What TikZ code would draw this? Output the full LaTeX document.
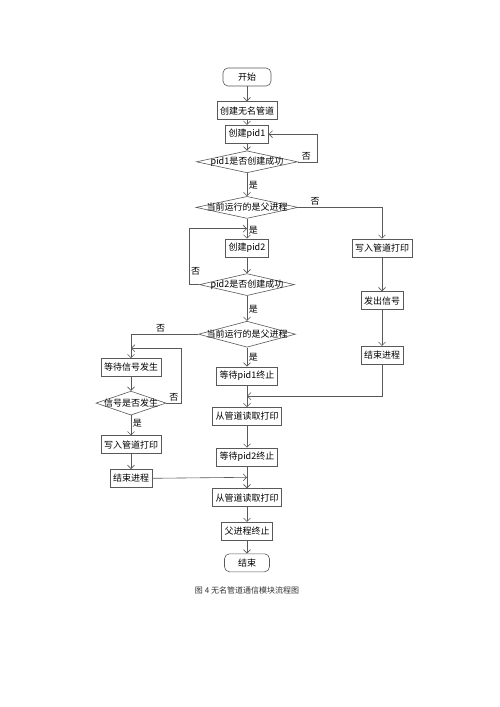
\documentclass[tikz,border=0pt]{standalone}
\usepackage{fontspec}
\newfontfamily\cjk{Noto Sans CJK SC}
\usetikzlibrary{arrows.meta, positioning, shapes.geometric, calc}
\newcommand{\dtxt}[1]{\makebox[0pt]{#1}}

\begin{document}
\begin{tikzpicture}[
  x=1pt, y=-1pt,
  font=\cjk\fontsize{9}{11}\selectfont,
  box/.style={draw=black!65, line width=.6pt, minimum height=18pt, inner xsep=3pt, inner ysep=2pt},
  term/.style={box, rounded corners=5pt},
  dec/.style={diamond, draw=black!65, line width=.6pt, inner sep=0pt, minimum height=22pt},
  lbl/.style={font=\cjk\fontsize{9}{10}\selectfont, inner sep=1.5pt},
  flow/.style={draw=black!65, line width=.6pt, ->},
  >={Straight Barb[length=3.5pt,width=7pt]}
]
\useasboundingbox[fill=white] (0,0) rectangle (500,707);
% main column
\node[term, minimum width=48pt] (start) at (247,77) {开始};
\node[box, below=15pt of start] (pipe) {创建无名管道};
\node[box, below=5pt of pipe] (pid1) {创建pid1};
\node[dec, minimum width=101pt, below=7pt of pid1] (ok1) {\dtxt{pid1是否创建成功}};
\node[dec, minimum width=102pt, below=23pt of ok1] (par1) {\dtxt{当前运行的是父进程}};
\node[box, below=20pt of par1] (pid2) {创建pid2};
\node[dec, minimum width=95pt, below=16pt of pid2] (ok2) {\dtxt{pid2是否创建成功}};
\node[dec, minimum width=97pt, minimum height=26pt, below=25pt of ok2] (par2) {\dtxt{当前运行的是父进程}};
\node[box, below=19pt of par2] (wait1) {等待pid1终止};
\node[box, below=22pt of wait1] (read1) {从管道读取打印};
\node[box, below=22pt of read1] (wait2) {等待pid2终止};
\node[box, below=22pt of wait2] (read2) {从管道读取打印};
\node[box, below=15pt of read2] (pexit) {父进程终止};
\node[term, minimum width=45pt, below=13pt of pexit] (stop) {结束};
% first child
\node[box, right=135pt of pid2.center, anchor=center] (cwrite) {写入管道打印};
\node[box, below=34pt of cwrite] (csig) {发出信号};
\node[box, below=36pt of csig] (cend) {结束进程};
% second child
\node[box, below=24pt of par2.center, xshift=-116pt, anchor=north] (await) {等待信号发生};
\node[dec, minimum width=70pt, minimum height=24pt, below=14pt of await] (sig) {\dtxt{信号是否发生}};
\node[box, below=20pt of sig] (awrite) {写入管道打印};
\node[box, below=15pt of awrite] (aend) {结束进程};
% caption
\node[font=\cjk\fontsize{8}{9}\selectfont, text=black!80] (cap) at (247,590) {图 4 无名管道通信模块流程图};
% junctions
\coordinate (j1) at ($(par1.south)!.5!(pid2.north)$);
\coordinate (j2) at ($(wait1.south)!.5!(read1.north)$);
\coordinate (j3) at ($(wait2.south)!.5!(read2.north)$);
\coordinate (j4) at ([yshift=10pt]await.north);
% connectors
\draw[flow] (start) -- (pipe);
\draw[flow] (pipe) -- (pid1);
\draw[flow] (pid1) -- (ok1);
\draw[flow] (ok1) -- node[lbl, right, pos=.55] {是} (par1);
\draw[flow] (ok1.east) -- node[lbl, above, pos=.45] {否} ++(19,0) |- (pid1.east);
\draw[flow] (par1) -- node[lbl, right, pos=.6] {是} (pid2);
\draw[flow] (par1.east) -| node[lbl, above, pos=.1] {否} (cwrite.north);
\draw[flow] (pid2) -- (ok2);
\draw[flow] (ok2.west) -- ++(-10,0) |- node[lbl, right, pos=.12] {否} (j1);
\draw[flow] (ok2) -- node[lbl, right, pos=.55] {是} (par2);
\draw[flow] (par2) -- node[lbl, right, pos=.5] {是} (wait1);
\draw[flow] (wait1) -- (read1);
\draw[flow] (read1) -- (wait2);
\draw[flow] (wait2) -- (read2);
\draw[flow] (read2) -- (pexit);
\draw[flow] (pexit) -- (stop);
\draw[flow] (cwrite) -- (csig);
\draw[flow] (csig) -- (cend);
\draw[flow] (cend.south) |- (j2);
\draw[flow] (par2.west) -| node[lbl, above, pos=.28] {否} (await.north);
\draw[flow] (await) -- (sig);
\draw[flow] (sig.east) -- node[lbl, above] {否} ++(15,0) |- (j4);
\draw[flow] (sig) -- node[lbl, right, pos=.4] {是} (awrite);
\draw[flow] (awrite) -- (aend);
\draw[flow] (aend.east) -- (j3);
\end{tikzpicture}
\end{document}
